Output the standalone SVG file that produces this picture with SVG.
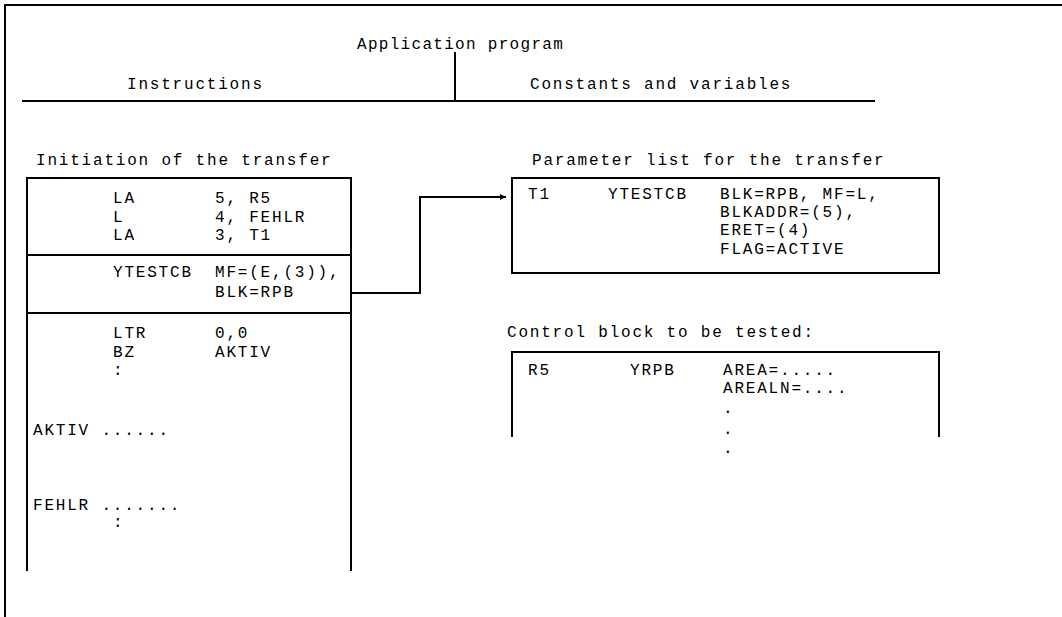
<svg xmlns="http://www.w3.org/2000/svg" width="1062" height="617" viewBox="0 0 1062 617">
  <style>
    .t { font-family: "Liberation Mono", "Courier New", monospace; font-size: 16px; letter-spacing: 1.8px; fill: #000; }
    .ln { stroke: #000; stroke-width: 2; fill: none; }
  </style>
  <defs>
    <marker id="arrow" markerWidth="8" markerHeight="8" refX="6" refY="3" orient="auto" markerUnits="userSpaceOnUse">
      <path d="M0,0 L6,3 L0,6 Z" fill="#000"/>
    </marker>
  </defs>

  <rect width="1062" height="617" fill="#fff"/>

  <!-- outer frame: top and left edges only -->
  <path class="ln" d="M5,617 V5 H1062"/>

  <!-- header: program split into instructions / constants -->
  <g id="header">
    <text class="t" x="357" y="49" style="letter-spacing:1.3px">Application program</text>
    <path class="ln" d="M455,52 V101"/>
    <path class="ln" d="M22,101 H875"/>
    <text class="t" x="127" y="89">Instructions</text>
    <text class="t" x="530" y="89">Constants and variables</text>
  </g>

  <!-- instruction sequence that starts the transfer -->
  <g id="instructions">
    <text class="t" x="36" y="165">Initiation of the transfer</text>
    <path class="ln" d="M27,571 V178 H351 V571"/>
    <path class="ln" d="M27,255 H351"/>
    <path class="ln" d="M27,313 H351"/>
    <text class="t" x="113" y="203">LA</text>
    <text class="t" x="215" y="203">5, R5</text>
    <text class="t" x="113" y="222">L</text>
    <text class="t" x="215" y="222">4, FEHLR</text>
    <text class="t" x="113" y="240">LA</text>
    <text class="t" x="215" y="240">3, T1</text>
    <text class="t" x="113" y="277">YTESTCB</text>
    <text class="t" x="215" y="277">MF=(E,(3)),</text>
    <text class="t" x="215" y="297">BLK=RPB</text>
    <text class="t" x="113" y="338">LTR</text>
    <text class="t" x="215" y="338">0,0</text>
    <text class="t" x="113" y="357">BZ</text>
    <text class="t" x="215" y="357">AKTIV</text>
    <text class="t" x="113" y="375">:</text>
    <text class="t" x="33" y="435">AKTIV ......</text>
    <text class="t" x="33" y="510">FEHLR .......</text>
    <text class="t" x="113" y="527">:</text>
  </g>

  <!-- parameter list used by the macro call -->
  <g id="parameter-list">
    <text class="t" x="532" y="165">Parameter list for the transfer</text>
    <rect class="ln" x="512" y="178" width="427" height="95"/>
    <text class="t" x="528" y="199">T1</text>
    <text class="t" x="608" y="199">YTESTCB</text>
    <text class="t" x="720" y="199">BLK=RPB, MF=L,</text>
    <text class="t" x="720" y="217">BLKADDR=(5),</text>
    <text class="t" x="720" y="235">ERET=(4)</text>
    <text class="t" x="720" y="254">FLAG=ACTIVE</text>
  </g>

  <!-- control block that is tested -->
  <g id="control-block">
    <text class="t" x="507" y="337">Control block to be tested:</text>
    <path class="ln" d="M512,437 V352 H939 V437"/>
    <text class="t" x="528" y="375">R5</text>
    <text class="t" x="630" y="375">YRPB</text>
    <text class="t" x="723" y="375">AREA=.....</text>
    <text class="t" x="723" y="393">AREALN=....</text>
    <text class="t" x="723" y="413">.</text>
    <text class="t" x="723" y="434">.</text>
    <text class="t" x="723" y="453">.</text>
  </g>

  <!-- connectors -->
  <g id="connectors">
    <path class="ln" d="M351,293 H420 V197 H506" marker-end="url(#arrow)"/>
  </g>
</svg>
